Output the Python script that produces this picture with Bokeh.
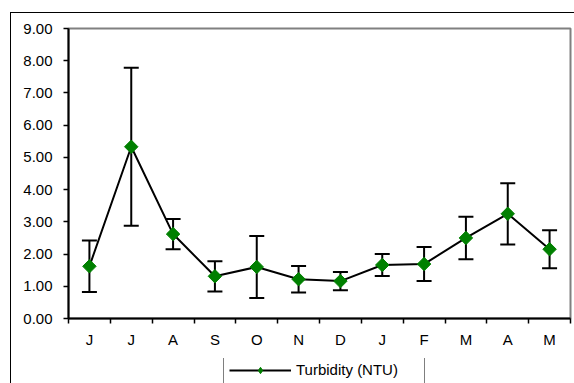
import math
from bokeh.plotting import figure
from bokeh.layouts import column
from bokeh.models import (ColumnDataSource, FixedTicker, NumeralTickFormatter, Whisker,
                          TeeHead, Legend, LegendItem, Range1d, InlineStyleSheet)
from bokeh.embed import file_html
from bokeh.resources import INLINE

# ---- data ----
months = ["J", "J", "A", "S", "O", "N", "D", "J", "F", "M", "A", "M"]
turbidity = [1.62, 5.33, 2.62, 1.31, 1.60, 1.22, 1.16, 1.66, 1.69, 2.50, 3.25, 2.15]
sd = [0.80, 2.45, 0.47, 0.47, 0.96, 0.41, 0.28, 0.34, 0.53, 0.66, 0.95, 0.59]
y_ticks = [0, 1, 2, 3, 4, 5, 6, 7, 8, 9]
series_name = "Turbidity (NTU)"

xs = [i + 0.5 for i in range(len(months))]
src = ColumnDataSource(dict(
    x=xs, y=turbidity,
    upper=[m + s for m, s in zip(turbidity, sd)],
    lower=[m - s for m, s in zip(turbidity, sd)],
))

FONT = "Liberation Sans"
GREEN = "#008000"

# ---------------- main chart ----------------
p = figure(width=574, height=358, output_backend="svg", toolbar_location=None,
           x_range=Range1d(0, len(months)), y_range=Range1d(0, 9),
           min_border_left=68, min_border_right=4, min_border_top=28, min_border_bottom=40)
p.background_fill_color = "white"
p.border_fill_color = "white"
p.outline_line_color = "#808080"
p.outline_line_width = 2
p.grid.visible = False

# y axis
ya = p.yaxis[0]
ya.ticker = FixedTicker(ticks=y_ticks)
ya.formatter = NumeralTickFormatter(format="0.00")
ya.axis_line_color = "black"
ya.axis_line_width = 2
ya.major_tick_in = 0
ya.major_tick_out = 5
ya.major_tick_line_color = "black"
ya.major_tick_line_width = 1.5
ya.minor_tick_line_color = None
ya.major_label_standoff = 11
ya.major_label_text_font = FONT
ya.major_label_text_font_size = "15px"
ya.major_label_text_color = "black"

# x axis: labels at category centres, tick marks between categories
xa = p.xaxis[0]
xa.ticker = FixedTicker(ticks=xs, minor_ticks=list(range(len(months) + 1)))
xa.major_label_overrides = {x: m for x, m in zip(xs, months)}
xa.axis_line_color = "black"
xa.axis_line_width = 2
xa.major_tick_line_color = None
xa.major_tick_in = 0
xa.major_tick_out = 0
xa.minor_tick_line_color = "black"
xa.minor_tick_line_width = 1.5
xa.minor_tick_in = 0
xa.minor_tick_out = 5
xa.major_label_standoff = 7
xa.major_label_text_font = FONT
xa.major_label_text_font_size = "15px"
xa.major_label_text_color = "black"

# error bars
wh = Whisker(source=src, base="x", upper="upper", lower="lower", dimension="height",
             line_color="black", line_width=2,
             upper_head=TeeHead(size=15, line_color="black", line_width=2),
             lower_head=TeeHead(size=15, line_color="black", line_width=2))
p.add_layout(wh)

p.line("x", "y", source=src, line_color="black", line_width=2)
p.scatter("x", "y", source=src, marker="square", angle=math.pi / 4, size=9.5,
          fill_color=GREEN, line_color=GREEN)

# ---------------- legend strip (same borders as the chart so frames align) ----------------
pl = figure(width=574, height=25, output_backend="svg", toolbar_location=None,
            x_axis_type=None, y_axis_type=None,
            x_range=Range1d(0, 1), y_range=Range1d(100, 101),
            min_border_left=68, min_border_right=4, min_border_top=0, min_border_bottom=0)
pl.background_fill_color = "white"
pl.border_fill_color = "white"
pl.outline_line_color = None
pl.grid.visible = False

# series renderers for the legend swatch (the data lie outside this strip's ranges)
lg_line = pl.line("x", "y", source=src, line_color="black", line_width=2)
lg_mark = pl.scatter("x", "y", source=src, marker="diamond", size=9.5,
                     fill_color=GREEN, line_color=GREEN)

legend = Legend(items=[LegendItem(label=series_name, renderers=[lg_line, lg_mark])],
                location=(155, -1), orientation="horizontal",
                padding=5, margin=0, spacing=0,
                glyph_width=62, glyph_height=16, label_height=16, label_width=123,
                label_standoff=5, label_text_font=FONT, label_text_font_size="15px",
                label_text_color="black", label_text_baseline="middle",
                border_line_color="black", border_line_width=1,
                background_fill_color="white", background_fill_alpha=1,
                click_policy="none")
pl.add_layout(legend)

layout = column(p, pl, spacing=0)
# outer chart border (left and top edges visible; the rest runs off the picture)
layout.stylesheets = [InlineStyleSheet(css="""
:host::after {
  content: ""; position: absolute; left: 10px; top: 12px; right: 0px; bottom: 0px;
  border-left: 1px solid black; border-top: 1px solid black; pointer-events: none;
}
""")]

open("out.html", "w").write(file_html(layout, INLINE))
